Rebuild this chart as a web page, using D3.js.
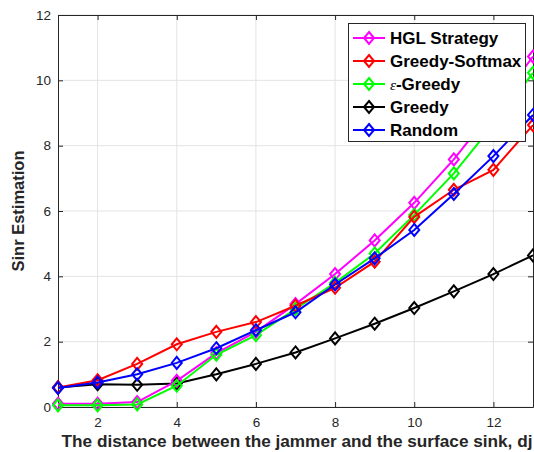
<!DOCTYPE html>
<html>
<head>
<meta charset="utf-8">
<script src="https://cdn.jsdelivr.net/npm/d3@7"></script>
<style>
  html, body { margin: 0; padding: 0; background: #fff; }
  svg { display: block; font-family: "Liberation Sans", Arial, sans-serif; }
</style>
</head>
<body>
<svg id="chart" width="534" height="452"></svg>
<script>
// Distance between jammer and surface sink (dj)
const distances = [1, 2, 3, 4, 5, 6, 7, 8, 9, 10, 11, 12, 13];

// SINR estimates for each strategy
const hglStrategy   = [0.10, 0.10, 0.15, 0.80, 1.65, 2.30, 3.15, 4.07, 5.10, 6.25, 7.58, 9.10, 10.73];
const greedySoftmax = [0.60, 0.82, 1.32, 1.92, 2.30, 2.60, 3.10, 3.65, 4.45, 5.82, 6.65, 7.26, 8.63];
const epsGreedy     = [0.05, 0.05, 0.08, 0.65, 1.60, 2.20, 3.00, 3.80, 4.70, 5.88, 7.15, 8.65, 10.23];
const greedy        = [0.60, 0.70, 0.68, 0.72, 1.00, 1.32, 1.67, 2.10, 2.55, 3.03, 3.54, 4.07, 4.64];
const randomPolicy  = [0.58, 0.75, 1.00, 1.35, 1.80, 2.35, 2.90, 3.75, 4.55, 5.42, 6.52, 7.68, 8.94];

const seriesNames  = ["HGL Strategy", "Greedy-Softmax", "ε-Greedy", "Greedy", "Random"];
const seriesColors = ["#ff00ff", "#ff0000", "#00ff00", "#000000", "#0000ff"];
const seriesValues = [hglStrategy, greedySoftmax, epsGreedy, greedy, randomPolicy];

const xTicks = [2, 4, 6, 8, 10, 12];
const yTicks = [0, 2, 4, 6, 8, 10, 12];

const svg = d3.select("#chart");
const plotLeft = 58, plotRight = 533, plotTop = 15, plotBottom = 407;

const x = d3.scaleLinear().domain([1, 13]).range([plotLeft, plotRight]);
const y = d3.scaleLinear().domain([0, 12]).range([plotBottom, plotTop]);

// grid
const grid = svg.append("g");
grid.selectAll("line.gx").data(xTicks).join("line")
  .attr("x1", d => x(d)).attr("x2", d => x(d))
  .attr("y1", plotTop).attr("y2", plotBottom)
  .attr("stroke", "#e3e3e3").attr("stroke-width", 1);
grid.selectAll("line.gy").data(yTicks).join("line")
  .attr("x1", plotLeft).attr("x2", plotRight)
  .attr("y1", d => y(d)).attr("y2", d => y(d))
  .attr("stroke", "#e3e3e3").attr("stroke-width", 1);

// axes (MATLAB-style inward ticks, boxed)
const axisColor = "#262626";
function styleAxis(g, showLabels) {
  g.select(".domain").attr("stroke", axisColor);
  g.selectAll(".tick line").attr("stroke", axisColor);
  g.selectAll(".tick text")
    .attr("fill", axisColor)
    .style("font-size", "13.5px")
    .style("font-family", "'Liberation Sans', Arial, sans-serif");
  if (!showLabels) g.selectAll(".tick text").remove();
}

svg.append("g").attr("transform", `translate(0,${plotBottom})`)
  .call(d3.axisBottom(x).tickValues(xTicks).tickSize(-5).tickPadding(10).tickSizeOuter(0))
  .call(g => styleAxis(g, true));
svg.append("g").attr("transform", `translate(0,${plotTop})`)
  .call(d3.axisTop(x).tickValues(xTicks).tickSize(-5).tickSizeOuter(0))
  .call(g => styleAxis(g, false));
svg.append("g").attr("transform", `translate(${plotLeft},0)`)
  .call(d3.axisLeft(y).tickValues(yTicks).tickSize(-5).tickPadding(7).tickSizeOuter(0))
  .call(g => styleAxis(g, true));
svg.append("g").attr("transform", `translate(${plotRight},0)`)
  .call(d3.axisRight(y).tickValues(yTicks).tickSize(-5).tickSizeOuter(0))
  .call(g => styleAxis(g, false));

// diamond marker path
function diamond(cx, cy) {
  const w = 5, h = 6;
  return `M${cx},${cy - h}L${cx + w},${cy}L${cx},${cy + h}L${cx - w},${cy}Z`;
}

const line = d3.line().x(d => x(d[0])).y(d => y(d[1]));

// draw series (black first so colored lines sit above it where they overlap)
const drawOrder = [3, 0, 2, 1, 4];
const plot = svg.append("g");
drawOrder.forEach(i => {
  const pts = distances.map((d, j) => [d, seriesValues[i][j]]);
  const g = plot.append("g");
  g.append("path").datum(pts)
    .attr("d", line)
    .attr("fill", "none")
    .attr("stroke", seriesColors[i])
    .attr("stroke-width", 2);
  g.selectAll("path.m").data(pts).join("path")
    .attr("class", "m")
    .attr("d", d => diamond(x(d[0]), y(d[1])))
    .attr("fill", "none")
    .attr("stroke", seriesColors[i])
    .attr("stroke-width", 2);
});

// axis labels
svg.append("text")
  .attr("x", 297).attr("y", 447)
  .attr("text-anchor", "middle")
  .attr("fill", axisColor)
  .style("font-size", "17.2px").style("font-weight", "bold")
  .text("The distance between the jammer and the surface sink, dj");

svg.append("text")
  .attr("transform", `translate(24,${(plotTop + plotBottom) / 2}) rotate(-90)`)
  .attr("text-anchor", "middle")
  .attr("fill", axisColor)
  .style("font-size", "16.5px").style("font-weight", "bold")
  .text("Sinr Estimation");

// legend
const legend = svg.append("g");
legend.append("rect")
  .attr("x", 348.5).attr("y", 23.5).attr("width", 177).attr("height", 118)
  .attr("fill", "#fff").attr("stroke", axisColor).attr("stroke-width", 1);

const legendY = [38, 61, 84, 107, 130];
seriesNames.forEach((name, i) => {
  const ly = legendY[i];
  legend.append("line")
    .attr("x1", 353).attr("x2", 385).attr("y1", ly).attr("y2", ly)
    .attr("stroke", seriesColors[i]).attr("stroke-width", 2);
  legend.append("path")
    .attr("d", diamond(369, ly))
    .attr("fill", "none").attr("stroke", seriesColors[i]).attr("stroke-width", 2);
  const t = legend.append("text")
    .attr("x", 390).attr("y", ly + 6)
    .attr("fill", "#000")
    .style("font-size", "17px").style("font-weight", "bold");
  if (name.startsWith("ε")) {
    t.append("tspan")
      .style("font-family", "'Liberation Serif', 'DejaVu Serif', serif")
      .style("font-style", "italic").style("font-weight", "normal")
      .style("font-size", "15px")
      .text("ε");
    t.append("tspan").text(name.slice(1));
  } else {
    t.text(name);
  }
});
</script>
</body>
</html>
